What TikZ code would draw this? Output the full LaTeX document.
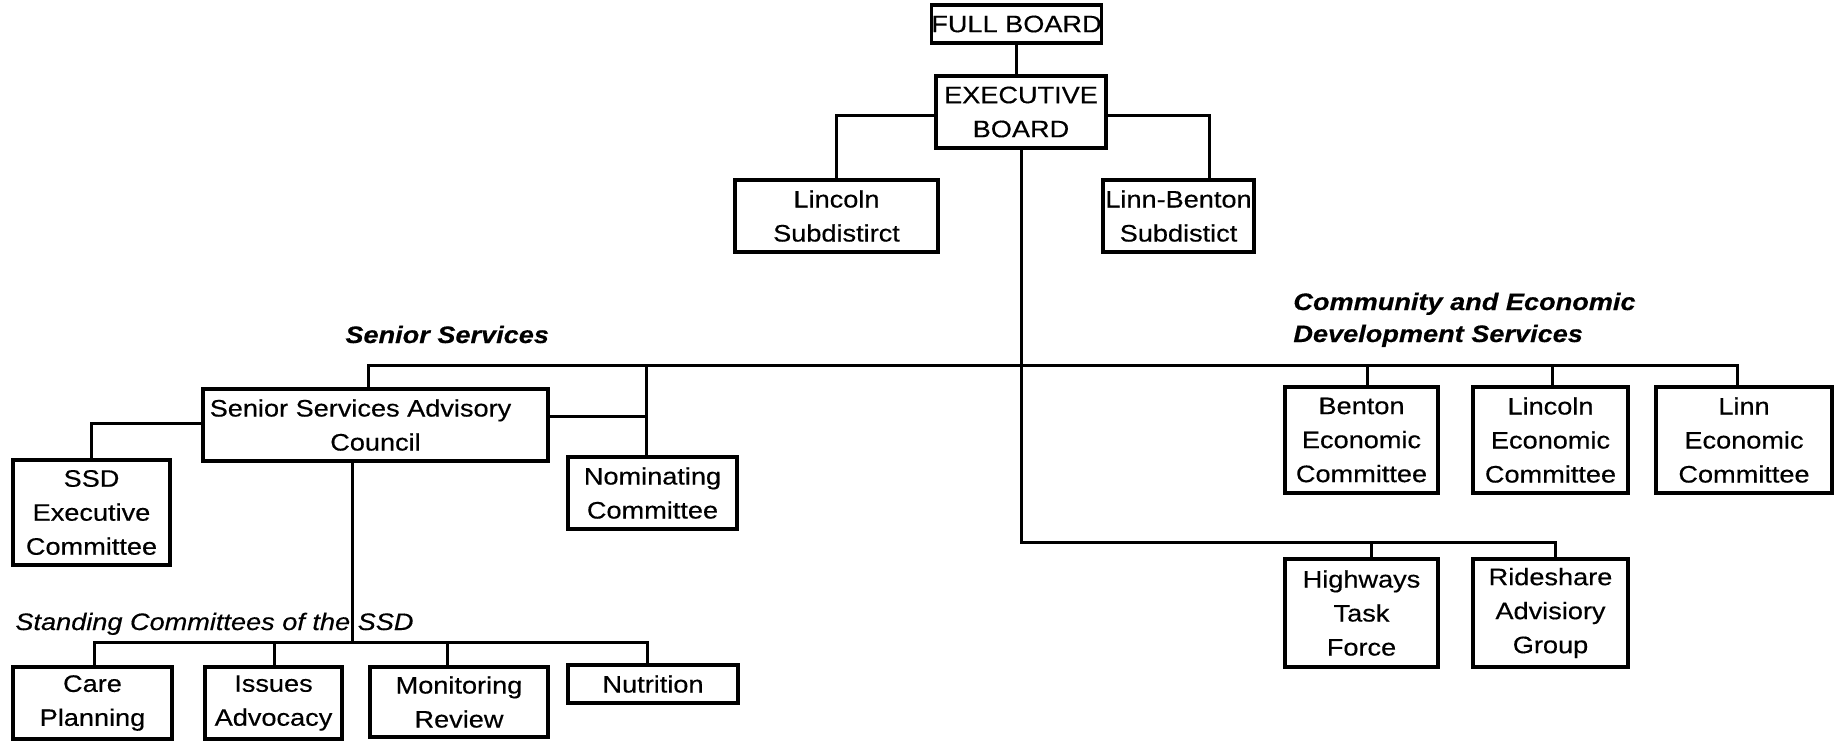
\documentclass[tikz,border=0pt]{standalone}
\usepackage{fontspec}
\setmainfont{Liberation Sans}[FakeStretch=1.14,FakeBold=0.4]
\begin{document}
\begin{tikzpicture}[x=0.5pt,y=-0.5pt,
  ob/.style n args={2}{draw, line width=1.7pt, inner sep=0pt, align=center,
     minimum width=#1*0.5pt, minimum height=#2*0.5pt,
     font=\fontsize{11.9}{17}\selectfont},
  conn/.style={line width=1.5pt},
  hd/.style={inner sep=0pt, font=\fontsize{11.9}{17}\selectfont\bfseries\itshape},
  hdi/.style={inner sep=0pt, font=\fontsize{11.9}{17}\selectfont\itshape}]
\useasboundingbox (0,0) rectangle (1843,741);
\fill[white] (0,0) rectangle (1843,741);
% boxes
\node[ob={167}{38}] (full) at (1016.5,24) {FULL BOARD};
\node[ob={170}{72}] (exec) at (1021,112) {EXECUTIVE\\BOARD};
\node[ob={203}{72}] (linc) at (836.5,216) {Lincoln\\Subdistirct};
\node[ob={151}{72}] (linnb) at (1178.5,216) {Linn-Benton\\Subdistict};
\node[ob={345}{72}] (ssac) at (375.5,425) {Senior Services Advisory\hspace*{15pt}\\Council};
\node[ob={157}{105}] (ssdx) at (91.5,512.5) {SSD\\Executive\\Committee};
\node[ob={169}{72}] (nom) at (652.5,493) {Nominating\\Committee};
\node[ob={153}{106}] (benton) at (1361.5,440) {Benton\\Economic\\Committee};
\node[ob={155}{106}] (lincec) at (1550.5,440) {Lincoln\\Economic\\Committee};
\node[ob={176}{106}] (linnec) at (1744,440) {Linn\\Economic\\Committee};
\node[ob={153}{108}] (hwy) at (1361.5,613) {Highways\\Task\\Force};
\node[ob={155}{108}] (ride) at (1550.5,613) {Rideshare\\Advisiory\\Group};
\node[ob={159}{72}] (care) at (92.5,703) {Care\\Planning};
\node[ob={137}{72}] (issues) at (273.5,703) {Issues\\Advocacy};
\node[ob={178}{70}] (monit) at (459,702) {Monitoring\\Review};
\node[ob={170}{38}] (nutr) at (653,684) {Nutrition};
% headings
\node[hd, anchor=base west] (ss) at (345,343) {Senior Services};
\node[hd, anchor=base west] (ceds1) at (1293,310) {Community and Economic};
\node[hd, anchor=base west] (ceds2) at (1293,342) {Development Services};
\node[hdi, anchor=base west] (stand) at (15,630) {Standing Committees of the SSD};
% coordinates
\coordinate (busL) at (368,365);
\coordinate (busR) at (1737,365);
\coordinate (bn) at (646,365);
\coordinate (bb) at (1367,365);
\coordinate (bl) at (1552,365);
\coordinate (tr) at (1555,542);
\coordinate (th) at (1371,542);
\coordinate (sb) at (352,642);
\coordinate (sL) at (94,642);
\coordinate (sR) at (647,642);
\coordinate (si) at (274,642);
\coordinate (sm) at (447,642);
% connectors
\draw[conn] (full.south) -- (full.south |- exec.north);
\draw[conn] (exec.west |- 0,115) -| (linc.north);
\draw[conn] (exec.east |- 0,115) -| (linnb.north -| 1209,0);
\draw[conn] (exec.south) -- (exec.south |- tr) -- (tr) -- (tr |- ride.north);
\draw[conn] (th) -- (th |- hwy.north);
\draw[conn] (busL |- ssac.north) -- (busL) -- (busR) -- (busR |- linnec.north);
\draw[conn] (bn) -- (bn |- nom.north);
\draw[conn] (bb) -- (bb |- benton.north);
\draw[conn] (bl) -- (bl |- lincec.north);
\draw[conn] (ssac.east |- 0,416) -- (bn |- 0,416);
\draw[conn] (ssac.west |- 0,423) -| (ssdx.north);
\draw[conn] (sb |- ssac.south) -- (sb);
\draw[conn] (sL |- care.north) -- (sL) -- (sR) -- (sR |- nutr.north);
\draw[conn] (si) -- (si |- issues.north);
\draw[conn] (sm) -- (sm |- monit.north);
\end{tikzpicture}
\end{document}
